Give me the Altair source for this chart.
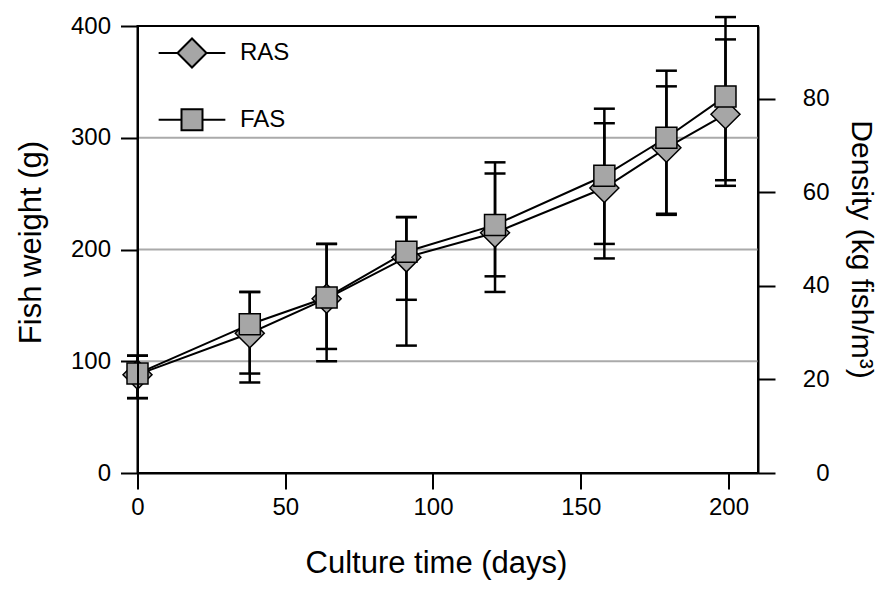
import altair as alt
import pandas as pd

# ---- data ----
days = [0, 38, 64, 91, 121, 158, 179, 199]
ras_weight = [88, 125, 156, 193, 215, 255, 291, 321]
fas_weight = [89, 133, 157, 198, 222, 266, 300, 337]
ras_low = [67, 81, 100, 114, 162, 192, 231, 257]
ras_high = [105, 162, 205, 229, 268, 313, 346, 388]
fas_low = [67, 89, 111, 155, 176, 205, 232, 262]
fas_high = [105, 162, 205, 229, 278, 326, 360, 408]
series_names = ["RAS", "FAS"]
weight_ticks = [0, 100, 200, 300, 400]
grid_values = [100, 200, 300]
day_ticks = [0, 50, 100, 150, 200]
density_ticks = [0, 20, 40, 60, 80]
density_domain = [0, 95.6]
day_domain = [0, 210]
weight_domain = [0, 400]

rows = []
for name, w, lo, hi in [("RAS", ras_weight, ras_low, ras_high),
                        ("FAS", fas_weight, fas_low, fas_high)]:
    for d, wi, l, h in zip(days, w, lo, hi):
        rows.append({"series": name, "day": d, "weight": wi, "low": l, "high": h})
df = pd.DataFrame(rows)
grid_df = pd.DataFrame({"g": grid_values})
dens_df = pd.DataFrame({"density": density_ticks})

FONT = "Liberation Sans"
GRAY = "#a6a6a6"

xscale = alt.Scale(domain=day_domain, nice=False, zero=False)
yscale = alt.Scale(domain=weight_domain, nice=False)

common_axis = dict(tickWidth=2, tickColor="black", domainColor="black", domainWidth=2,
                   labelFont=FONT, labelFontSize=24, labelColor="black",
                   labelFlush=False,
                   titleFont=FONT, titleFontSize=31, titleFontWeight="normal",
                   titleColor="black", titleBaseline="middle", titleAlign="center",
                   grid=False, zindex=1)

left_axis = alt.Axis(values=weight_ticks, title="Fish weight (g)", tickSize=17,
                     labelPadding=10, titleX=-106, titleY=216, **common_axis)
x_axis = alt.Axis(values=day_ticks, title="Culture time (days)", tickSize=16,
                  labelPadding=6, titleX=298.5, titleY=90, **common_axis)
right_common = dict(common_axis, titleFontSize=30)
right_axis = alt.Axis(values=density_ticks, title="Density (kg fish/m³)", orient="right",
                      tickSize=17, labelAlign="right", labelPadding=54,
                      titleX=102, titleY=223, titleAngle=90, **right_common)


def X():
    return alt.X("day:Q", scale=xscale, axis=x_axis)


def Y(field):
    return alt.Y(field, scale=yscale, axis=left_axis)


grid = alt.Chart(grid_df).mark_rule(color="#aaaaaa", strokeWidth=2).encode(y=Y("g:Q"))

err = alt.Chart(df).mark_rule(color="black", strokeWidth=2.5).encode(
    x=X(), y=Y("low:Q"), y2="high:Q")

caps = alt.Chart(df).transform_fold(["low", "high"], as_=["end", "val"]).mark_tick(
    orient="horizontal", size=21, thickness=2.5, color="black", opacity=1).encode(
    x=X(), y=Y("val:Q"))

lines = alt.Chart(df).mark_line(color="black", strokeWidth=2).encode(
    x=X(), y=Y("weight:Q"), detail="series:N")

ras_pts = alt.Chart(df).transform_filter("datum.series == 'RAS'").mark_point(
    shape="diamond", size=841, filled=True, fill=GRAY, stroke="black",
    strokeWidth=1.5, opacity=1).encode(x=X(), y=Y("weight:Q"))

fas_pts = alt.Chart(df).transform_filter("datum.series == 'FAS'").mark_point(
    shape="square", size=441, filled=True, fill=GRAY, stroke="black",
    strokeWidth=1.5, opacity=1).encode(x=X(), y=Y("weight:Q"))

path_ras = "M-2.3,0L-1,0M-1,0L0,-1L1,0L0,1ZM1,0L2.3,0"
path_fas = "M-2.3,0L-0.724,0M-0.724,-0.724L0.724,-0.724L0.724,0.724L-0.724,0.724ZM0.724,0L2.3,0"

legend = alt.Legend(orient="none", legendX=39, legendY=11.5, title=None,
                    labelFont=FONT, labelFontSize=24, labelColor="black",
                    labelOffset=32.5, rowPadding=32.7, symbolSize=841,
                    symbolStrokeWidth=2, symbolOpacity=1, padding=0)

legend_layer = alt.Chart(df).transform_filter("datum.day < 0").mark_point(
    filled=False, fill=GRAY, stroke="black", strokeWidth=2, opacity=1).encode(
    x=X(), y=Y("weight:Q"),
    shape=alt.Shape("series:N", scale=alt.Scale(domain=series_names,
                                                range=[path_ras, path_fas]),
                    legend=legend))

density = alt.Chart(dens_df).mark_point(opacity=0).encode(
    y=alt.Y("density:Q", scale=alt.Scale(domain=density_domain, nice=False),
            axis=right_axis))

left = alt.layer(grid, err, caps, lines, ras_pts, fas_pts, legend_layer)

chart = alt.layer(left, density).resolve_scale(y="independent").properties(
    width=620.5, height=447,
    autosize=alt.AutoSizeParams(type="none"),
    padding={"left": 129.5, "top": 18, "right": 121, "bottom": 110},
    background="white",
).configure_view(stroke="black", strokeWidth=2)

chart.save("out.html", embed_options={"renderer": "svg", "actions": False})
